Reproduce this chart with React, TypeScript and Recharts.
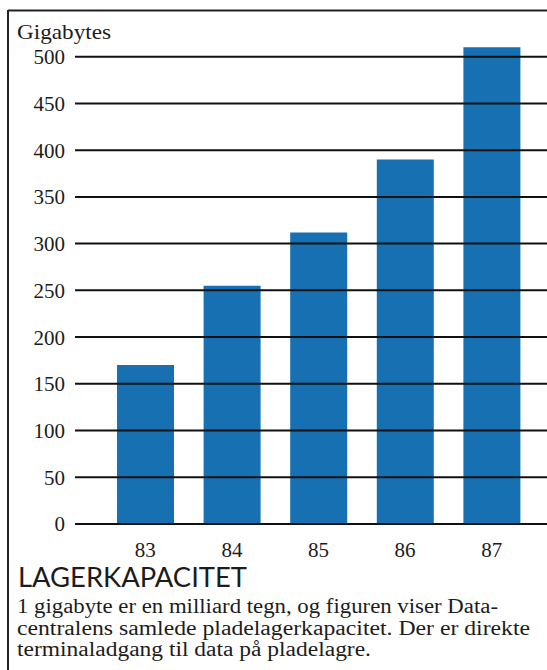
import { Bar, BarChart, ReferenceLine, XAxis, YAxis } from 'recharts';

const years = ['83', '84', '85', '86', '87'];
const gigabytes = [170, 255, 312, 390, 510];
const yTicks = [0, 50, 100, 150, 200, 250, 300, 350, 400, 450, 500];

const data = years.map((year, i) => ({ year, gb: gigabytes[i] }));

const serif = 'Liberation Serif';
const ink = '#1c1c1c';

export default function App() {
  return (
    <div style={{ position: 'absolute', left: 0, top: 0, width: 547, height: 670, background: '#fff', overflow: 'hidden' }}>
      <BarChart
        width={547}
        height={564}
        data={data}
        margin={{ top: 38, right: 0, bottom: 0, left: 0 }}
        barSize={57}
        style={{ position: 'absolute', left: 0, top: 0 }}
      >
        <XAxis
          dataKey="year"
          height={40}
          padding={{ left: 27, right: 12 }}
          axisLine={false}
          tickLine={false}
          tickSize={0}
          tickMargin={18}
          tick={{ fill: ink, fontSize: 21, fontFamily: serif }}
        />
        <YAxis
          domain={[0, 520]}
          ticks={yTicks}
          width={75}
          axisLine={false}
          tickLine={false}
          tickSize={0}
          tickMargin={10}
          tick={{ fill: ink, fontSize: 21, fontFamily: serif }}
        />
        <Bar dataKey="gb" fill="#1770b1" isAnimationActive={false} />
        {/* grid drawn over the bars, like the print */}
        {yTicks.map((t) => (
          <ReferenceLine key={t} y={t} stroke="#111" strokeWidth={2} />
        ))}
      </BarChart>
      <svg width={547} height={670} style={{ position: 'absolute', left: 0, top: 0, pointerEvents: 'none' }}>
        <line x1={8} y1={10.5} x2={547} y2={10.5} stroke="#222" strokeWidth={2} />
        <line x1={8} y1={10} x2={8} y2={670} stroke="#222" strokeWidth={2} />
        <text x={17} y={39} fontFamily={serif} fontSize={22} fill={ink} textLength={94} lengthAdjust="spacingAndGlyphs">
          Gigabytes
        </text>
        <text x={18} y={587} fontFamily="Lato" fontSize={27} fill={ink} textLength={229} lengthAdjust="spacingAndGlyphs">
          LAGERKAPACITET
        </text>
        <text x={17} y={613} fontFamily={serif} fontSize={20} fill={ink} textLength={481} lengthAdjust="spacingAndGlyphs">
          1 gigabyte er en milliard tegn, og figuren viser Data-
        </text>
        <text x={17} y={634.5} fontFamily={serif} fontSize={20} fill={ink} textLength={513} lengthAdjust="spacingAndGlyphs">
          centralens samlede pladelagerkapacitet. Der er direkte
        </text>
        <text x={17} y={656} fontFamily={serif} fontSize={20} fill={ink} textLength={354} lengthAdjust="spacingAndGlyphs">
          terminaladgang til data på pladelagre.
        </text>
      </svg>
    </div>
  );
}
